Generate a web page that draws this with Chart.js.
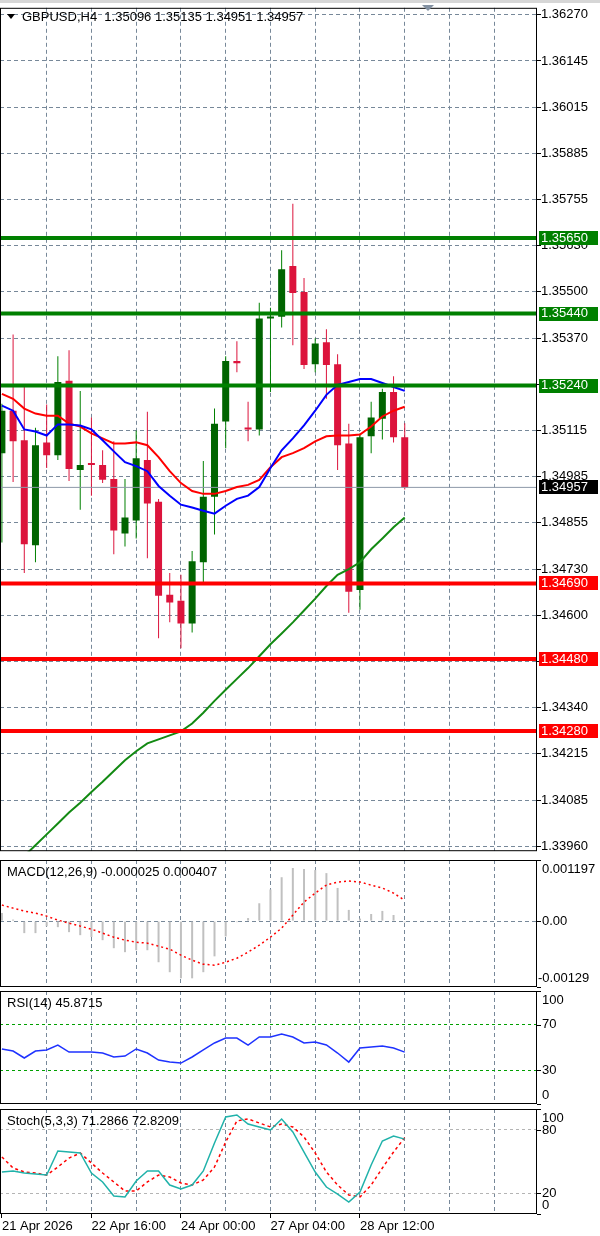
<!DOCTYPE html>
<html>
<head>
<meta charset="utf-8">
<script src="https://cdn.jsdelivr.net/npm/chart.js@4/dist/chart.umd.min.js"></script>
<style>
  html, body { margin: 0; padding: 0; background: #fff; width: 600px; height: 1236px; overflow: hidden; }
  canvas { position: absolute; left: 0; }
  #topbar { position: absolute; left: 0; top: 0; width: 600px; height: 3px; background: #d6d6d6; }
</style>
</head>
<body>
<div id="topbar"></div>
<canvas id="main" width="600" height="859" style="top:0"></canvas>
<canvas id="macd" width="600" height="130" style="top:859px"></canvas>
<canvas id="rsi" width="600" height="117" style="top:989px"></canvas>
<canvas id="stoch" width="600" height="130" style="top:1106px"></canvas>
<script>
const symbol = 'GBPUSD,H4';

// H4 candles, 21 Apr 08:00 .. 29 Apr 04:00
const opens  = [1.35052, 1.35170, 1.35088, 1.34796, 1.35082, 1.35046, 1.35253, 1.35005, 1.35024, 1.35019, 1.34980, 1.34829, 1.34865, 1.35033, 1.34917, 1.34659, 1.34642, 1.34579, 1.34749, 1.34931, 1.35140, 1.35308, 1.35121, 1.35118, 1.35426, 1.35431, 1.35572, 1.35500, 1.35299, 1.35360, 1.35299, 1.35079, 1.34672, 1.35099, 1.35148, 1.35222, 1.35096];
const highs  = [1.35189, 1.35382, 1.35239, 1.35123, 1.35187, 1.35321, 1.35338, 1.35225, 1.35151, 1.35060, 1.35085, 1.34980, 1.35115, 1.35167, 1.34925, 1.34719, 1.34714, 1.34780, 1.35030, 1.35176, 1.35321, 1.35363, 1.35195, 1.35470, 1.35456, 1.35616, 1.35745, 1.35539, 1.35371, 1.35396, 1.35327, 1.35134, 1.35107, 1.35195, 1.35231, 1.35266, 1.35135];
const lows   = [1.34804, 1.34972, 1.34719, 1.34749, 1.35011, 1.35033, 1.34975, 1.34895, 1.34934, 1.34969, 1.34771, 1.34793, 1.34815, 1.34760, 1.34538, 1.34582, 1.34510, 1.34554, 1.34689, 1.34826, 1.35066, 1.35277, 1.35085, 1.35101, 1.35222, 1.35401, 1.35352, 1.35286, 1.35277, 1.35203, 1.35005, 1.34609, 1.34617, 1.35052, 1.35090, 1.35082, 1.34951];
const closes = [1.35170, 1.35085, 1.34799, 1.35074, 1.35046, 1.35250, 1.35008, 1.35019, 1.35019, 1.34978, 1.34837, 1.34873, 1.35038, 1.34912, 1.34656, 1.34637, 1.34579, 1.34752, 1.34931, 1.35134, 1.35308, 1.35302, 1.35118, 1.35426, 1.35431, 1.35563, 1.35497, 1.35297, 1.35357, 1.35297, 1.35074, 1.34667, 1.35096, 1.35151, 1.35222, 1.35096, 1.34957];

// moving averages
const maFast = [1.35184, 1.35170, 1.35118, 1.35112, 1.35101, 1.35132, 1.35132, 1.35129, 1.35118, 1.35088, 1.35057, 1.35027, 1.35016, 1.35002, 1.34961, 1.34934, 1.34909, 1.34901, 1.34892, 1.34884, 1.34906, 1.34925, 1.34934, 1.34958, 1.35011, 1.35060, 1.35093, 1.35129, 1.35170, 1.35214, 1.35242, 1.35250, 1.35258, 1.35258, 1.35247, 1.35236, 1.35225];
const maSlow = [1.35217, 1.35203, 1.35176, 1.35162, 1.35156, 1.35156, 1.35134, 1.35126, 1.35107, 1.35093, 1.35079, 1.35079, 1.35082, 1.35074, 1.35041, 1.35002, 1.34969, 1.34947, 1.34939, 1.34939, 1.34947, 1.34958, 1.34964, 1.34978, 1.35013, 1.35041, 1.35052, 1.35066, 1.35085, 1.35099, 1.35101, 1.35101, 1.35104, 1.35126, 1.35154, 1.35170, 1.35181];
const maLong = [1.33872, 1.33902, 1.33933, 1.33963, 1.33993, 1.34023, 1.34054, 1.34081, 1.34111, 1.34139, 1.34169, 1.34199, 1.34224, 1.34246, 1.34257, 1.34268, 1.34279, 1.34301, 1.34331, 1.34364, 1.34395, 1.34425, 1.34455, 1.34488, 1.34521, 1.34551, 1.34582, 1.34615, 1.34648, 1.34683, 1.34714, 1.34730, 1.34749, 1.34785, 1.34815, 1.34846, 1.34873];

const resistance = [1.35650, 1.35440, 1.35240];
const support = [1.34690, 1.34480, 1.34280];
const lastPrice = 1.34957;

const priceTicks = ['1.36270', '1.36145', '1.36015', '1.35885', '1.35755', '1.35630', '1.35500', '1.35370', '1.35240', '1.35115', '1.34985', '1.34855', '1.34730', '1.34600', '1.34470', '1.34340', '1.34215', '1.34085', '1.33960'];
const priceMin = 1.339463;
const priceMax = 1.362893;

// indicators
const macdMain = [0.00016, 0.00003, -0.000235, -0.000235, -0.00010, -0.000118, -0.000216, -0.000275, -0.00031, -0.000373, -0.00053, -0.000608, -0.00057, -0.00057, -0.000805, -0.00100, -0.00112, -0.00112, -0.00100, -0.00069, -0.00030, -0.00002, 0.00006, 0.00035, 0.00062, 0.00086, 0.00104, 0.00102, 0.00100, 0.00094, 0.00065, 0.00022, 0.00005, 0.00014, 0.00020, 0.00012, -0.000025];
const macdSignal = [0.000314, 0.000255, 0.000196, 0.000157, 0.000098, 0.00002, -0.000039, -0.000098, -0.000157, -0.000235, -0.000314, -0.000373, -0.000412, -0.000432, -0.000491, -0.000549, -0.000667, -0.000765, -0.000844, -0.000864, -0.000805, -0.000726, -0.000608, -0.000471, -0.000314, -0.000137, 0.000118, 0.000373, 0.000549, 0.000706, 0.000765, 0.000785, 0.000765, 0.000706, 0.000648, 0.000549, 0.000407];
const macdMax = 0.001197;
const macdMin = -0.00129;
const rsi = [48.7, 46.9, 40.7, 46.9, 47.8, 52.2, 46.0, 46.0, 46.0, 45.1, 41.6, 42.4, 48.7, 45.1, 38.9, 37.1, 36.2, 41.6, 47.8, 54.0, 58.4, 58.4, 52.2, 59.3, 59.3, 62.0, 59.3, 54.0, 54.9, 52.2, 45.1, 37.1, 49.6, 50.4, 51.3, 49.6, 45.8715];
const stochMain = [40.0, 41.0, 39.0, 38.1, 37.1, 60.0, 59.0, 58.1, 39.0, 30.5, 17.1, 16.2, 31.4, 41.0, 41.0, 27.6, 23.8, 27.6, 41.0, 67.6, 92.4, 94.3, 85.7, 82.9, 80.0, 90.5, 78.1, 59.0, 40.0, 25.7, 19.0, 11.4, 21.0, 46.7, 69.5, 74.3, 71.2866];
const stochSignal = [54.3, 43.8, 40.0, 39.0, 37.1, 44.8, 53.3, 58.1, 48.6, 39.0, 30.5, 21.9, 21.9, 30.5, 37.1, 35.2, 29.5, 27.6, 32.4, 44.8, 68.6, 88.6, 90.5, 86.7, 82.9, 85.7, 82.9, 73.3, 58.1, 40.0, 27.6, 18.1, 16.2, 27.6, 43.8, 59.0, 72.8209];

const timeLabels = ['21 Apr 2026', '22 Apr 16:00', '24 Apr 00:00', '27 Apr 04:00', '28 Apr 12:00'];
const timeLabelBars = [0, 8, 16, 24, 32];

// visible bar range (empty space on the right like MT4 chart shift)
const xMin = -0.17;
const xMax = 47.82;

const FONT = "'Liberation Sans', Arial, sans-serif";
const FSIZE = 13;
const GRID = '#778899';
Chart.defaults.font.family = FONT;
Chart.defaults.font.size = FSIZE;
Chart.defaults.color = '#000';

const pts = arr => arr.map((v, i) => ({ x: i, y: v }));

function xAxis(withLabels) {
  return {
    type: 'linear', min: xMin, max: xMax, offset: false,
    afterBuildTicks: s => {
      s.ticks = [];
      for (let i = withLabels ? 0 : 4; i <= 44; i += 4) s.ticks.push({ value: i });
    },
    afterFit: s => { s.height = withLabels ? 22 : 0; },
    grid: {
      offset: false,
      drawTicks: withLabels,
      tickLength: 4,
      color: c => (c.tick && c.tick.value === 0) ? 'rgba(0,0,0,0)' : GRID,
      tickColor: c => (c.tick && timeLabelBars.includes(c.tick.value)) ? '#000' : 'rgba(0,0,0,0)'
    },
    border: { display: false, dash: [4, 3] },
    ticks: {
      display: withLabels, autoSkip: false, maxRotation: 0, align: 'start', padding: 1,
      callback: v => { const k = timeLabelBars.indexOf(v); return k < 0 ? '' : timeLabels[k]; }
    }
  };
}

const frame = {
  id: 'frame',
  afterDraw(chart) {
    const { ctx, chartArea: a } = chart;
    ctx.save();
    ctx.strokeStyle = '#000';
    ctx.lineWidth = 1;
    ctx.strokeRect(a.left + 0.5, a.top + 0.5, a.width - 1, a.height - 1);
    ctx.restore();
  }
};

// title text at top-left + value labels on the right axis of indicator panels
function panelText(title, labels) {
  return {
    id: 'panelText',
    afterDraw(chart) {
      const { ctx, chartArea: a } = chart;
      const y = chart.scales.y;
      ctx.save();
      ctx.font = FSIZE + 'px ' + FONT;
      ctx.fillStyle = '#000';
      ctx.textBaseline = 'middle';
      ctx.fillText(title, 7, a.top + 12);
      labels.forEach(l => {
        const py = y.getPixelForValue(l.v);
        ctx.strokeStyle = '#000';
        ctx.beginPath();
        ctx.moveTo(a.right, Math.round(py) + 0.5);
        ctx.lineTo(a.right + 4, Math.round(py) + 0.5);
        ctx.stroke();
        let ty = py;
        if (l.at === 'top') { ctx.textBaseline = 'top'; ty = py + 3; }
        else if (l.at === 'bottom') { ctx.textBaseline = 'bottom'; ty = py - 2; }
        else ctx.textBaseline = 'middle';
        ctx.fillText(l.t, a.right + (l.t[0] === '-' ? 1 : 5), ty);
      });
      ctx.restore();
    }
  };
}

const priceBoxes = {
  id: 'priceBoxes',
  afterDraw(chart) {
    const { ctx, chartArea: a } = chart;
    const y = chart.scales.y;
    ctx.save();
    ctx.font = FSIZE + 'px ' + FONT;
    ctx.textBaseline = 'middle';
    const box = (v, fill) => {
      const py = y.getPixelForValue(v);
      ctx.fillStyle = fill;
      ctx.fillRect(a.right + 2, Math.round(py) - 7, 59, 14);
      ctx.fillStyle = '#fff';
      ctx.fillText(v.toFixed(5), a.right + 4, py);
    };
    resistance.forEach(v => box(v, '#008000'));
    support.forEach(v => box(v, '#ff0000'));
    box(lastPrice, '#000');

    // header
    const n = opens.length - 1;
    ctx.fillStyle = '#000';
    ctx.beginPath();
    ctx.moveTo(7, 14); ctx.lineTo(15, 14); ctx.lineTo(11, 19); ctx.closePath();
    ctx.fill();
    ctx.fillText(symbol + '  ' + [opens[n], highs[n], lows[n], closes[n]].map(v => v.toFixed(5)).join(' '), 22, 17);

    // chart shift marker
    ctx.fillStyle = '#8391a2';
    ctx.beginPath();
    ctx.moveTo(422, 5); ctx.lineTo(434, 5); ctx.lineTo(428, 11); ctx.closePath();
    ctx.fill();
    ctx.restore();
  }
};

const tickStep = (parseFloat(priceTicks[0]) - parseFloat(priceTicks[priceTicks.length - 1])) / (priceTicks.length - 1);

const idx = opens.map((_, i) => i);
const bull = idx.filter(i => closes[i] >= opens[i]);
const bear = idx.filter(i => closes[i] < opens[i]);
const wicks = list => list.map(i => ({ x: i, y: [lows[i], highs[i]] }));
const bodies = list => list.map(i => ({ x: i, y: [opens[i], closes[i]] }));
const flat = v => [{ x: xMin, y: v }, { x: xMax, y: v }];

const barBase = { type: 'bar', grouped: false, inflateAmount: 0, borderWidth: 0 };
const lineBase = { type: 'line', pointRadius: 0, tension: 0, clip: 0 };

const common = {
  responsive: false,
  animation: false,
  events: [],
  plugins: { legend: { display: false }, tooltip: { enabled: false } }
};

new Chart(document.getElementById('main'), {
  type: 'line',
  data: {
    datasets: [
      { ...barBase, data: wicks(bull), backgroundColor: '#008000', barThickness: 1, order: 10 },
      { ...barBase, data: wicks(bear), backgroundColor: '#dc143c', barThickness: 1, order: 10 },
      { ...barBase, data: bodies(bull), backgroundColor: '#006400', barThickness: 7, minBarLength: 2, order: 9 },
      { ...barBase, data: bodies(bear), backgroundColor: '#dc143c', barThickness: 7, minBarLength: 2, order: 9 },
      { ...lineBase, data: flat(lastPrice), borderColor: '#8c98a8', borderWidth: 1, order: 8 },
      { ...lineBase, data: pts(maLong), borderColor: '#138a13', borderWidth: 2, order: 6 },
      { ...lineBase, data: pts(maSlow), borderColor: '#ff0000', borderWidth: 2, order: 6 },
      { ...lineBase, data: pts(maFast), borderColor: '#0000ff', borderWidth: 2, order: 5 },
      ...resistance.map(v => ({ ...lineBase, data: flat(v), borderColor: '#008000', borderWidth: 4, order: 3 })),
      ...support.map(v => ({ ...lineBase, data: flat(v), borderColor: '#ff0000', borderWidth: 4, order: 3 }))
    ]
  },
  options: {
    ...common,
    layout: { padding: { top: 5, bottom: 2, left: 0, right: 0 } },
    scales: {
      x: xAxis(false),
      y: {
        type: 'linear', position: 'right', min: priceMin, max: priceMax,
        afterBuildTicks: s => { s.ticks = priceTicks.map((t, k) => ({ value: parseFloat(priceTicks[0]) - k * tickStep })); },
        afterFit: s => { s.width = 63; },
        grid: { color: GRID, tickColor: '#000', tickLength: 4 },
        border: { display: false, dash: [4, 3] },
        ticks: { padding: 0, autoSkip: false, callback: (v, k) => priceTicks[k] }
      }
    }
  },
  plugins: [frame, priceBoxes]
});

function subY(min, max, lines, color, dash) {
  return {
    type: 'linear', position: 'right', min: min, max: max,
    afterBuildTicks: s => { s.ticks = lines.map(v => ({ value: v })); },
    afterFit: s => { s.width = 63; },
    grid: { color: color, drawTicks: false },
    border: { display: false, dash: dash },
    ticks: { display: false }
  };
}

new Chart(document.getElementById('macd'), {
  type: 'line',
  data: {
    datasets: [
      { ...barBase, data: pts(macdMain), backgroundColor: '#c0c0c0', barThickness: 2, order: 5 },
      { ...lineBase, data: pts(macdSignal), borderColor: '#ff0000', borderWidth: 1.5, borderDash: [2, 3], order: 2 }
    ]
  },
  options: {
    ...common,
    layout: { padding: { top: 1, bottom: 2, left: 0, right: 0 } },
    scales: { x: xAxis(false), y: subY(macdMin, macdMax, [0], GRID, [4, 3]) }
  },
  plugins: [frame, panelText('MACD(12,26,9) ' + macdMain[macdMain.length - 1].toFixed(6) + ' ' + macdSignal[macdSignal.length - 1].toFixed(6), [
    { v: macdMax, t: macdMax.toFixed(6), at: 'top' },
    { v: 0, t: '0.00', at: 'mid' },
    { v: macdMin, t: macdMin.toFixed(5), at: 'bottom' }
  ])]
});

new Chart(document.getElementById('rsi'), {
  type: 'line',
  data: {
    datasets: [
      { ...lineBase, data: pts(rsi), borderColor: '#1e32ff', borderWidth: 1.5 }
    ]
  },
  options: {
    ...common,
    layout: { padding: { top: 2, bottom: 2, left: 0, right: 0 } },
    scales: { x: xAxis(false), y: subY(0, 100, [70, 30], '#00a000', [3, 3]) }
  },
  plugins: [frame, panelText('RSI(14) ' + rsi[rsi.length - 1].toFixed(4), [
    { v: 100, t: '100', at: 'top' },
    { v: 70, t: '70', at: 'mid' },
    { v: 30, t: '30', at: 'mid' },
    { v: 0, t: '0', at: 'bottom' }
  ])]
});

new Chart(document.getElementById('stoch'), {
  type: 'line',
  data: {
    datasets: [
      { ...lineBase, data: pts(stochMain), borderColor: '#20b2aa', borderWidth: 1.5, order: 2 },
      { ...lineBase, data: pts(stochSignal), borderColor: '#ff0000', borderWidth: 1.5, borderDash: [3, 3], order: 3 }
    ]
  },
  options: {
    ...common,
    layout: { padding: { top: 3, bottom: 0, left: 0, right: 0 } },
    scales: { x: xAxis(true), y: subY(0, 100, [80, 20], '#b4b4b4', [3, 3]) }
  },
  plugins: [frame, panelText('Stoch(5,3,3) ' + stochMain[stochMain.length - 1].toFixed(4) + ' ' + stochSignal[stochSignal.length - 1].toFixed(4), [
    { v: 100, t: '100', at: 'top' },
    { v: 80, t: '80', at: 'mid' },
    { v: 20, t: '20', at: 'mid' },
    { v: 0, t: '0', at: 'bottom' }
  ])]
});
</script>
</body>
</html>
